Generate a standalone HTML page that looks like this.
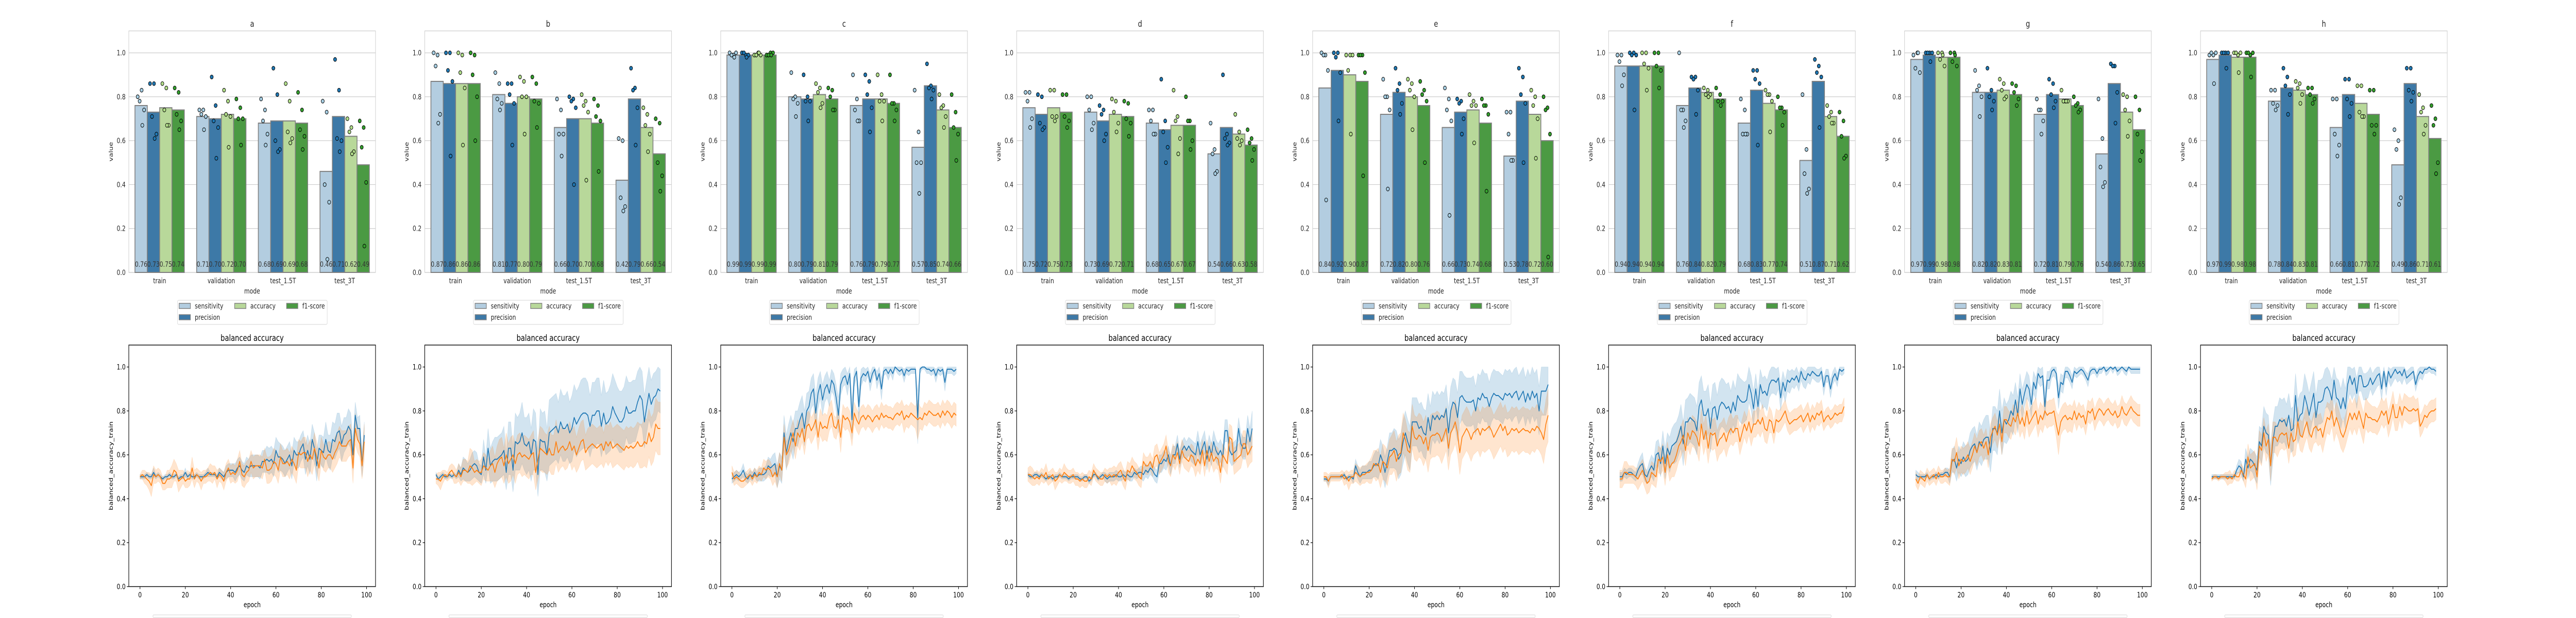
<!DOCTYPE html>
<html><head><meta charset="utf-8"><title>metrics</title>
<style>
html,body{margin:0;padding:0;background:#fff;width:100%;height:100%;overflow:hidden;}
svg{display:block;font-family:"DejaVu Sans","Liberation Sans",sans-serif;overflow:hidden;width:100vw;height:100vh;}
</style></head>
<body>
<svg id="fig" viewBox="0 0 6400 1200" preserveAspectRatio="none" xmlns="http://www.w3.org/2000/svg"></svg>
<script>
// ---------- BAR CHART DATA ----------
const modes = ['train','validation','test_1.5T','test_3T'];
const metrics = ['sensitivity','precision','accuracy','f1-score'];
const panelTitles = ['a','b','c','d','e','f','g','h'];
const yTicksTop = [0,0.2,0.4,0.6,0.8,1.0];
const yTicksBottom = [0,0.2,0.4,0.6,0.8,1.0];
const xTicksBottom = [0,20,40,60,80,100];

const means_a = [.76,.73,.75,.74, .71,.70,.72,.70, .68,.69,.69,.68, .46,.71,.62,.49];
const means_b = [.87,.86,.86,.86, .81,.77,.80,.79, .66,.70,.70,.68, .42,.79,.66,.54];
const means_c = [.99,.99,.99,.99, .80,.79,.81,.79, .76,.79,.79,.77, .57,.85,.74,.66];
const means_d = [.75,.72,.75,.73, .73,.69,.72,.71, .68,.65,.67,.67, .54,.66,.63,.58];
const means_e = [.84,.92,.90,.87, .72,.82,.80,.76, .66,.73,.74,.68, .53,.78,.72,.60];
const means_f = [.94,.94,.94,.94, .76,.84,.82,.79, .68,.83,.77,.74, .51,.87,.71,.62];
const means_g = [.97,.99,.98,.98, .82,.82,.83,.81, .72,.81,.79,.76, .54,.86,.73,.65];
const means_h = [.97,.99,.98,.98, .78,.84,.83,.81, .66,.81,.77,.72, .49,.86,.71,.61];

const dots_a = [[.80,.83,.78,.74,.67],[.86,.86,.71,.63,.61],[.86,.84,.74,.67,.67],[.84,.82,.72,.69,.65],
 [.74,.74,.72,.71,.65],[.89,.76,.69,.66,.52],[.83,.78,.72,.71,.57],[.79,.75,.70,.70,.58],
 [.79,.74,.69,.63,.58],[.93,.81,.60,.56,.55],[.86,.78,.64,.61,.59],[.82,.74,.65,.62,.56],
 [.78,.73,.40,.32,.06],[.97,.83,.61,.60,.55],[.70,.66,.64,.55,.54],[.69,.66,.57,.41,.12]];
const dots_b = [[1.0,.99,.94,.72,.68],[1.0,1.0,.92,.87,.53],[1.0,.99,.91,.84,.58],[1.0,.99,.90,.80,.60],
 [.91,.86,.79,.77,.74],[.86,.86,.81,.77,.58],[.89,.87,.80,.80,.63],[.89,.86,.78,.77,.66],
 [.79,.74,.63,.63,.53],[.80,.79,.78,.75,.40],[.81,.78,.76,.73,.42],[.79,.76,.71,.69,.46],
 [.61,.60,.34,.30,.28],[.93,.84,.83,.75,.58],[.75,.72,.67,.63,.55],[.70,.68,.50,.44,.37]];
const dots_c = [[1.0,.99,.99,1.0,.98],[1.0,.99,1.0,.99,.98],[.99,1.0,.99,.99,1.0],[.99,1.0,.99,1.0,.99],
 [.91,.80,.79,.77,.71],[.90,.80,.78,.78,.69],[.86,.84,.82,.77,.75],[.84,.83,.80,.74,.74],
 [.90,.79,.74,.69,.69],[.90,.87,.81,.75,.64],[.90,.81,.78,.78,.69],[.90,.77,.77,.74,.69],
 [.83,.64,.50,.50,.36],[.95,.85,.84,.83,.79],[.81,.76,.75,.71,.66],[.81,.73,.66,.63,.51]];
const dots_d = [[.82,.82,.78,.70,.66],[.81,.80,.68,.66,.65],[.83,.83,.71,.71,.69],[.81,.81,.71,.69,.66],
 [.80,.80,.74,.68,.65],[.76,.74,.72,.63,.60],[.79,.78,.73,.68,.64],[.78,.77,.70,.68,.62],
 [.74,.74,.69,.63,.63],[.88,.69,.64,.57,.50],[.83,.71,.69,.61,.54],[.80,.69,.69,.60,.56],
 [.68,.56,.54,.46,.45],[.90,.63,.61,.59,.58],[.72,.64,.61,.60,.58],[.65,.61,.59,.56,.51]];
const dots_e = [[1.0,.99,.99,.92,.33],[1.0,1.0,.98,.91,.69],[.99,.99,.92,.99,.63],[.99,.99,.99,.91,.44],
 [.88,.80,.80,.74,.38],[.93,.86,.83,.77,.72],[.88,.86,.83,.80,.65],[.87,.83,.81,.78,.50],
 [.84,.79,.74,.69,.26],[.79,.78,.77,.70,.63],[.81,.78,.76,.76,.59],[.79,.76,.76,.72,.37],
 [.73,.73,.63,.51,.51],[.93,.89,.81,.77,.50],[.83,.80,.76,.70,.52],[.80,.75,.74,.63,.07]];
const dots_f = [[.99,.99,.96,.90,.85],[1.0,1.0,.99,.99,.74],[1.0,1.0,.95,.93,.83],[1.0,1.0,.94,.92,.84],
 [1.0,.74,.74,.69,.66],[.89,.89,.88,.83,.72],[.84,.83,.81,.81,.80],[.84,.81,.78,.78,.76],
 [.79,.74,.63,.63,.63],[.92,.92,.88,.86,.58],[.83,.81,.81,.78,.64],[.80,.75,.75,.73,.67],
 [.81,.56,.45,.38,.36],[.97,.94,.91,.89,.66],[.76,.73,.71,.68,.68],[.73,.69,.62,.53,.52]];
const dots_g = [[.99,1.0,.93,.91,1.0],[1.0,1.0,1.0,1.0,.96],[1.0,1.0,.97,.94,.99],[1.0,1.0,.96,.94,.99],
 [.92,.85,.83,.80,.71],[.93,.83,.80,.78,.74],[.88,.86,.83,.80,.79],[.86,.85,.82,.79,.76],
 [.79,.74,.74,.69,.63],[.88,.86,.81,.78,.75],[.83,.78,.78,.78,.78],[.80,.77,.76,.74,.73],
 [.79,.61,.48,.41,.39],[.95,.94,.94,.82,.68],[.81,.80,.74,.69,.62],[.80,.74,.63,.55,.51]];
const dots_h = [[.99,.99,1.0,1.0,.86],[1.0,1.0,1.0,1.0,.93],[1.0,.99,1.0,1.0,.91],[1.0,.99,1.0,1.0,.89],
 [.83,.83,.77,.76,.74],[.93,.89,.85,.81,.72],[.87,.86,.84,.81,.77],[.84,.84,.81,.79,.77],
 [.79,.79,.63,.58,.53],[.88,.88,.79,.77,.71],[.85,.85,.73,.71,.71],[.83,.83,.67,.67,.63],
 [.65,.60,.56,.34,.31],[.93,.93,.83,.82,.78],[.81,.75,.73,.67,.63],[.76,.70,.67,.50,.45]];

// ---------- LINE CHART DATA (percent, epochs 0..99) ----------
const blue_a = [50,50,50,51,50,50,52,50,51,50, 49,50,50,51,50,50,51,49,50,50, 52,50,51,50,50,51,50,50,50,51, 52,51,51,51,50,52,51,50,52,53, 53,53,52,54,55,53,52,55,54,55, 55,55,55,54,57,57,58,57,58,56, 62,59,59,58,56,58,60,55,62,60, 60,63,65,58,62,58,67,63,55,63, 62,61,67,62,61,67,66,70,71,65, 69,70,73,71,60,78,72,72,55,69];
const orange_a = [50,51,50,49,48,46,51,50,51,50, 47,47,49,49,50,53,52,48,49,50, 48,49,49,54,49,51,50,48,50,50, 51,52,51,52,49,51,50,48,52,54, 51,52,51,53,57,51,50,52,53,57, 54,55,55,55,54,58,53,53,54,57, 56,53,59,56,56,57,55,58,56,53, 61,60,61,61,57,60,58,63,59,54, 62,59,58,60,60,58,61,63,66,64, 64,64,66,67,54,72,67,65,55,66];
const blueSd_a = [1,1,1,1,1,1,2,1,1,1, 1,1,1,1,1,1,1,1,1,1, 2,1,1,1,1,1,1,1,1,1, 2,1,1,1,1,2,2,2,3,3, 3,3,4,4,4,4,4,4,4,5, 5,5,5,5,5,5,6,6,6,6, 6,7,6,6,6,6,6,6,6,6, 6,6,6,7,7,7,7,7,7,6, 7,7,8,7,8,8,8,9,8,8, 8,7,8,8,7,6,5,6,5,6];
const orangeSd_a = [1,2,3,3,4,5,4,3,3,3, 3,3,4,4,5,5,4,5,4,3, 3,4,3,5,4,3,3,4,3,3, 3,4,4,3,4,3,3,4,4,4, 4,4,4,5,5,5,5,5,5,5, 5,5,5,5,5,5,6,6,6,6, 6,6,6,6,6,6,6,6,6,6, 6,6,7,7,7,7,7,7,7,6, 6,6,6,6,6,6,7,7,7,7, 7,7,7,7,7,7,6,6,6,8];

const blue_b = [51,49,50,51,50,50,51,50,51,50, 53,51,54,53,52,53,55,56,55,52, 51,59,53,63,55,57,58,58,59,60, 62,52,63,63,53,66,65,66,70,65, 64,66,60,67,66,51,67,66,66,60, 70,71,72,73,70,75,72,72,74,70, 72,77,74,76,78,79,79,78,73,78, 78,80,80,73,79,74,75,77,82,79, 77,75,75,77,82,79,79,80,80,84, 87,85,75,82,88,83,86,87,90,89];
const orange_b = [49,49,48,50,51,50,52,53,51,50, 52,50,53,53,52,55,54,52,53,52, 52,55,54,53,55,56,52,56,58,59, 55,60,56,58,60,56,60,61,59,60, 59,58,60,61,52,58,63,62,61,60, 63,60,60,66,61,63,64,62,63,66, 62,64,60,63,66,67,61,63,64,65, 64,63,64,65,62,66,64,66,63,64, 65,64,63,62,64,63,64,63,64,66, 64,64,66,65,70,66,68,74,72,72];
const blueSd_b = [1,1,1,1,1,1,1,1,1,1, 3,3,5,5,4,5,6,6,6,4, 4,8,6,9,8,9,10,10,10,10, 11,8,12,12,10,13,12,13,14,12, 13,13,12,14,13,10,14,13,14,12, 15,15,15,15,14,15,15,15,15,14, 15,15,15,15,16,16,16,15,14,15, 15,15,15,14,15,14,14,15,15,15, 14,14,14,14,14,14,14,14,14,14, 13,13,12,12,12,11,11,11,10,10];
const orangeSd_b = [2,3,4,3,2,2,3,3,4,3, 4,4,5,5,5,8,8,5,5,5, 6,6,6,5,7,8,7,8,9,9, 8,10,9,10,9,9,9,9,9,9, 9,9,9,10,8,9,10,10,9,9, 10,9,9,10,9,9,9,9,9,9, 9,9,8,9,9,9,8,9,9,9, 9,9,9,9,8,9,9,9,9,9, 9,9,9,9,9,9,9,9,9,9, 10,10,11,11,11,11,11,12,12,12];

const blue_c = [49,50,51,50,51,53,50,49,51,50, 52,50,51,51,51,52,55,54,55,56, 50,55,53,70,61,66,70,66,72,72, 76,79,72,80,82,88,90,79,88,92, 85,90,92,88,94,92,86,78,92,95, 96,92,97,76,95,98,82,95,97,96, 98,93,97,99,94,97,90,98,99,97, 99,97,100,99,98,99,96,99,98,99, 99,99,77,99,100,100,99,99,98,99, 96,99,98,99,93,99,99,99,98,99];
const orange_c = [52,49,50,49,48,48,49,50,51,49, 51,50,52,51,54,53,54,53,50,52, 50,56,53,68,60,62,66,70,64,70, 68,72,66,73,74,71,73,76,68,75, 72,73,72,77,79,73,72,76,68,78, 76,77,75,70,79,76,74,77,78,76, 78,77,75,77,78,76,79,77,78,77, 77,76,78,79,78,80,76,78,77,79, 78,77,76,77,76,79,78,80,79,78, 78,79,77,80,78,80,79,77,79,78];
const blueSd_c = [2,2,2,2,2,3,2,2,2,2, 2,2,3,3,3,3,4,4,5,5, 5,6,6,8,8,8,8,8,8,8, 8,8,8,8,7,7,7,8,7,6, 7,6,6,6,5,5,6,8,5,4, 4,5,3,9,4,3,7,4,3,3, 2,4,3,2,4,3,5,2,2,3, 2,3,1,2,2,2,3,2,2,2, 2,2,12,2,1,1,2,2,2,2, 3,2,2,2,4,2,2,2,2,2];
const orangeSd_c = [3,3,3,3,3,3,3,3,3,3, 3,3,3,3,4,4,4,4,4,4, 5,5,5,6,6,6,6,6,6,6, 6,6,6,6,6,6,6,6,6,6, 6,6,6,6,6,5,5,5,7,5, 5,5,5,6,5,5,5,5,5,5, 5,5,5,5,5,5,5,5,5,5, 5,5,5,5,5,5,6,5,5,5, 5,5,9,5,5,5,5,5,5,5, 5,5,5,5,5,5,5,5,5,5];

const blue_d = [51,50,50,51,51,50,51,50,49,50, 50,49,50,50,51,50,50,50,49,50, 50,50,50,49,49,50,50,48,49,51, 51,49,50,51,50,49,50,50,50,51, 50,50,51,50,51,50,50,52,51,52, 52,51,53,52,54,53,51,50,56,56, 58,57,60,55,60,60,65,58,62,64, 62,64,62,61,60,66,60,63,66,58, 64,60,66,62,60,62,59,71,71,62, 60,61,62,72,65,63,63,72,66,72];
const orange_d = [51,51,50,49,50,49,51,50,52,49, 50,51,48,49,51,50,52,51,50,50, 51,49,49,48,49,48,48,50,49,53, 51,50,49,49,51,50,51,50,51,50, 52,53,50,48,53,52,55,53,52,50, 49,57,55,55,57,54,59,60,56,58, 60,64,57,55,60,58,61,56,62,59, 58,57,60,59,55,58,56,62,55,62, 57,61,57,59,58,52,60,58,56,68, 67,57,58,59,60,65,65,60,62,64];
const blueSd_d = [1,1,1,1,1,1,1,1,1,1, 1,1,1,1,1,1,1,1,1,1, 1,1,1,1,1,1,1,1,1,1, 1,1,1,1,2,2,2,2,2,2, 2,2,2,2,2,2,2,2,2,2, 3,3,3,3,3,3,3,3,4,4, 4,4,4,4,4,4,4,4,4,4, 4,4,5,5,5,5,5,5,5,5, 5,5,5,5,5,5,5,5,5,5, 5,5,5,5,5,5,5,6,6,8];
const orangeSd_d = [3,4,4,3,3,3,3,3,4,3, 3,3,4,3,3,3,4,3,3,3, 3,3,3,3,3,3,3,3,3,3, 3,3,3,3,3,3,3,4,4,4, 4,4,4,4,4,4,4,4,4,4, 4,4,4,4,4,4,5,5,5,5, 5,5,5,5,5,5,5,5,5,5, 5,5,5,5,5,5,5,5,5,5, 5,5,5,5,5,5,5,5,5,6, 6,6,6,6,6,6,6,6,6,7];

const blue_e = [49,49,48,50,50,50,50,50,50,51, 49,50,50,49,55,52,50,52,52,52, 53,53,55,56,55,60,57,52,57,62, 62,63,62,58,60,66,70,66,63,75, 75,75,72,73,70,69,77,71,78,76, 78,76,78,77,81,70,80,84,83,77, 86,87,85,84,84,84,85,80,86,85, 88,86,86,82,86,88,87,87,86,85, 88,87,88,86,88,89,85,87,89,84, 88,85,89,86,88,80,89,89,89,92];
const orange_e = [50,50,48,50,50,50,50,50,51,49, 50,48,50,50,52,51,50,51,51,52, 52,53,56,55,56,52,57,56,54,59, 60,62,57,60,61,70,67,62,61,73, 68,67,69,68,65,68,62,68,69,69, 70,69,66,69,72,63,70,72,75,70, 61,68,70,72,70,67,70,71,72,69, 72,71,72,73,71,68,70,72,74,71, 73,69,70,72,71,72,70,71,72,71, 71,70,72,71,73,72,70,67,74,78];
const blueSd_e = [1,1,2,1,1,1,1,1,1,1, 1,1,1,2,3,3,3,3,3,3, 4,4,5,6,6,7,7,7,7,8, 8,9,9,9,9,10,10,10,10,11, 11,11,11,11,11,11,11,11,11,11, 11,11,11,11,11,11,11,11,11,11, 12,11,11,11,11,11,11,11,11,11, 11,11,11,11,11,11,11,11,11,11, 11,11,11,11,11,11,11,11,11,11, 11,11,11,11,11,11,11,11,11,9];
const orangeSd_e = [2,2,3,2,2,2,2,2,2,3, 3,4,3,3,4,4,4,4,4,4, 5,6,6,7,7,7,8,8,8,8, 9,9,9,9,9,9,9,9,9,10, 10,10,10,10,10,10,10,10,10,10, 10,10,10,10,10,10,10,10,10,10, 10,10,10,10,10,10,10,10,10,10, 10,10,10,10,10,10,10,10,10,10, 10,10,10,10,10,10,10,10,10,10, 10,10,10,10,10,10,10,11,11,12];

const blue_f = [50,50,52,51,52,52,51,50,53,55, 56,51,50,53,55,53,60,61,56,64, 56,63,60,64,65,66,69,73,65,75, 75,77,76,75,71,82,85,78,78,81, 72,81,82,76,82,84,83,81,82,79, 84,80,87,85,84,84,85,92,88,81, 90,82,92,88,89,87,92,94,94,93, 95,86,93,89,94,93,95,94,96,93, 98,95,94,97,96,98,97,96,96,98, 91,96,96,90,95,97,94,99,98,99];
const orange_f = [49,49,52,52,51,51,51,50,49,51, 53,50,47,48,52,51,50,58,57,59, 52,60,54,56,57,60,64,66,69,62, 70,67,71,70,68,64,74,67,71,63, 70,69,70,64,67,68,70,66,70,72, 70,72,72,66,70,74,71,75,70,74, 74,76,74,77,72,71,76,75,70,76, 75,76,78,80,76,74,75,76,76,77, 78,75,77,79,75,78,76,79,78,80, 75,77,78,76,77,79,78,79,79,82];
const blueSd_f = [2,2,2,2,2,2,2,2,3,4, 5,3,3,4,5,5,6,6,6,7, 7,7,8,8,9,9,9,10,10,10, 11,11,11,11,11,11,11,11,11,11, 11,11,11,11,11,11,11,11,11,10, 10,10,10,10,10,9,9,8,8,8, 7,7,7,7,7,7,6,6,6,6, 5,6,5,5,5,5,4,4,4,4, 4,4,4,4,4,3,3,3,3,3, 4,3,3,4,3,3,3,2,2,2];
const orangeSd_f = [4,4,5,5,4,4,4,4,5,5, 5,5,5,5,5,5,5,6,6,6, 6,6,6,6,7,7,7,7,7,7, 7,7,7,7,7,7,7,7,7,7, 7,7,7,7,7,7,7,7,7,7, 6,6,6,6,6,6,6,6,6,6, 6,6,6,6,6,6,6,5,5,5, 5,5,5,5,5,5,5,5,5,5, 5,5,5,5,5,5,5,5,5,5, 4,4,4,4,4,4,4,4,4,4];

const blue_g = [51,50,50,50,50,51,49,50,50,51, 50,51,51,52,52,50,57,58,54,58, 56,59,57,58,62,64,65,61,66,64, 67,68,68,61,72,72,70,80,70,76, 74,76,80,78,85,78,90,83,88,92, 90,83,93,90,97,95,96,82,94,94, 98,99,97,86,93,92,98,98,96,93, 98,97,98,99,98,96,94,98,99,99, 97,99,99,100,98,99,100,99,100,98, 99,100,99,98,100,99,99,99,99,99];
const orange_g = [49,47,50,49,48,51,49,50,51,49, 52,50,50,51,50,50,58,57,61,55, 58,57,58,60,57,60,64,61,65,66, 63,66,60,68,71,73,69,74,66,76, 76,74,73,77,75,79,74,77,73,80, 74,76,78,80,74,78,76,80,78,79, 79,80,74,69,75,77,78,76,77,76, 80,76,79,77,78,74,80,79,81,76, 79,81,80,78,80,81,79,78,80,77, 78,82,79,78,80,82,80,79,78,78];
const blueSd_g = [2,2,1,1,1,1,1,1,1,1, 1,1,1,2,2,3,5,6,6,6, 6,7,7,7,8,8,8,8,9,9, 9,10,10,9,10,10,10,10,10,10, 9,9,9,9,8,8,7,7,6,6, 6,6,5,5,4,4,4,6,4,4, 3,3,3,5,4,4,3,3,3,3, 2,2,2,2,2,2,3,2,2,2, 2,2,2,1,2,2,1,2,1,2, 2,1,2,2,1,2,2,2,2,2];
const orangeSd_g = [3,3,3,3,3,3,3,3,3,3, 3,3,3,3,3,4,5,6,7,6, 6,6,6,6,6,6,6,6,6,6, 6,6,6,6,6,6,6,6,6,6, 6,6,6,6,6,6,6,6,6,6, 6,6,6,6,6,6,6,6,6,6, 6,6,6,9,6,6,6,6,6,6, 5,5,5,5,5,5,5,5,5,5, 5,5,5,5,5,5,5,5,5,5, 5,5,5,5,5,5,5,5,5,5];

const blue_h = [50,50,50,50,50,50,50,50,50,50, 50,53,55,54,50,58,54,58,57,55, 53,66,64,73,70,69,55,66,73,73, 76,75,76,73,78,71,72,87,75,78, 79,87,83,78,83,88,77,84,84,85, 90,91,89,85,94,86,85,81,86,81, 92,96,92,95,88,96,96,91,91,92, 95,92,94,96,97,90,98,91,98,95, 97,99,97,98,96,99,95,96,97,98, 92,96,98,97,99,99,100,99,99,98];
const orange_h = [49,50,50,49,50,50,50,49,50,49, 51,50,50,53,51,49,59,54,55,56, 50,64,62,70,64,67,55,68,68,66, 69,70,69,70,63,70,66,67,75,69, 68,72,75,70,68,72,73,71,72,68, 73,77,76,80,73,77,74,70,68,71, 75,79,76,79,76,80,76,72,79,77, 77,76,76,75,77,80,78,80,74,78, 83,77,77,82,78,82,81,80,80,81, 80,81,73,75,78,77,79,80,80,81];
const blueSd_h = [1,1,1,1,1,1,1,1,1,1, 1,2,3,3,2,5,5,5,5,6, 6,7,8,9,9,9,9,9,9,9, 10,10,10,10,10,10,10,10,10,10, 10,10,10,10,10,10,10,10,10,10, 9,9,9,9,9,9,9,9,9,9, 8,8,7,7,7,7,7,6,6,6, 5,5,5,5,5,5,4,4,4,4, 4,4,4,4,4,4,3,3,3,3, 3,3,3,3,2,2,2,2,2,2];
const orangeSd_h = [1,1,1,1,1,1,2,3,3,2, 2,2,2,3,3,4,6,6,6,6, 6,7,7,7,7,7,7,7,7,7, 7,7,7,7,7,7,7,7,7,7, 7,7,7,7,7,7,7,7,7,7, 7,7,7,7,7,7,7,7,7,7, 7,7,7,7,7,7,7,7,7,7, 6,6,6,6,6,6,6,6,6,6, 6,6,6,6,6,6,6,6,6,6, 5,5,5,5,5,5,5,5,5,5];

const allMeans = [means_a,means_b,means_c,means_d,means_e,means_f,means_g,means_h];
const allDots = [dots_a,dots_b,dots_c,dots_d,dots_e,dots_f,dots_g,dots_h];
const allBlue = [blue_a,blue_b,blue_c,blue_d,blue_e,blue_f,blue_g,blue_h];
const allOrange = [orange_a,orange_b,orange_c,orange_d,orange_e,orange_f,orange_g,orange_h];
const allBlueSd = [blueSd_a,blueSd_b,blueSd_c,blueSd_d,blueSd_e,blueSd_f,blueSd_g,blueSd_h];
const allOrangeSd = [orangeSd_a,orangeSd_b,orangeSd_c,orangeSd_d,orangeSd_e,orangeSd_f,orangeSd_g,orangeSd_h];

// ---------- RENDER ----------
const NS = 'http://www.w3.org/2000/svg';
const svg = document.getElementById('fig');
const barFill = ['#b3cde0','#3d79a7','#b8d89a','#4b9a43'];
const dotFill = ['#a6cee3','#1f78b4','#b2df8a','#33a02c'];
const jit = [-0.35,0.05,-0.15,0.3,0.12];
function mk(tag, attrs, parent, text){
  const e = document.createElementNS(NS, tag);
  for (const k in attrs) e.setAttribute(k, attrs[k]);
  if (text !== undefined) e.textContent = text;
  (parent || svg).appendChild(e);
  return e;
}
const PW = 735.3, AW = 613;
const TOP_T = 60, TOP_B = 529, BOT_T = 670, BOT_B = 1139, PXU = 426.4;
function tY(v){ return TOP_B - v*PXU; }
function bY(v){ return BOT_B - v*PXU; }

for (let p = 0; p < 8; p++) {
  const L = 320 + PW*p, R = L + AW;
  const catW = AW/4;
  function xc(k){ return L + (k+0.5)*catW; }
  function bX(e){ return L + (e+4.95)*AW/108.9; }

  // ===== top bar panel =====
  const gt = mk('g', {});
  
  
  mk('rect', {x:L, y:TOP_T, width:AW, height:TOP_B-TOP_T, fill:'#fff', stroke:'#cccccc', 'stroke-width':1.2}, gt);
  yTicksTop.forEach(v => {
    const gl = mk('line', {x1:L, x2:R, y1:tY(v), y2:tY(v), stroke:'#cccccc', 'stroke-width':1.2}, gt);
    
    
    const tl = mk('text', {x:L-8, y:tY(v)+5, 'text-anchor':'end', 'font-size':13.9, fill:'#262626'}, gt, v.toFixed(1));
    
    
  });
  const tt = mk('text', {x:(L+R)/2, y:52, 'text-anchor':'middle', 'font-size':16.7, fill:'#262626'}, gt, panelTitles[p]);
  
  
  const yl = mk('text', {transform:`translate(${L-40},${(TOP_T+TOP_B)/2}) rotate(-90)`, 'text-anchor':'middle', 'font-size':13.9, fill:'#262626'}, gt, 'value');
  
  
  const xl = mk('text', {x:(L+R)/2, y:570, 'text-anchor':'middle', 'font-size':13.9, fill:'#262626'}, gt, 'mode');
  
  
  const means = allMeans[p], dots = allDots[p];
  for (let k = 0; k < 4; k++) {
    const xt = mk('text', {x:xc(k), y:550, 'text-anchor':'middle', 'font-size':13.9, fill:'#262626'}, gt, modes[k]);
    
    
    for (let m = 0; m < 4; m++) {
      const idx = k*4+m;
      const bw = catW*0.2;
      const bx = xc(k) + (m-1.5)*bw - bw/2;
      const v = means[idx];
      const b = mk('rect', {x:bx, y:tY(v), width:bw, height:v*PXU, fill:barFill[m], stroke:'#808080', 'stroke-width':2}, gt);
      
      
      const vt = mk('text', {x:bx+bw/2, y:518, 'text-anchor':'middle', 'font-size':13.9, fill:'#333'}, gt, v.toFixed(2));
      
      
      dots[idx].forEach((d, j) => {
        const c = mk('circle', {cx:bx+bw/2 + jit[j]*bw*0.8, cy:tY(d), r:3.8, fill:dotFill[m], stroke:'#000', 'stroke-width':1.1}, gt);
        
        
      });
    }
  }
  // legend
  const lg = mk('g', {}, gt);
  
  
  const lx = L + 121;
  mk('rect', {x:lx, y:583, width:372, height:47, rx:3, fill:'#fff', stroke:'#dddddd', 'stroke-width':1.2}, lg);
  const legPos = [[lx+4,594],[lx+4,616],[lx+142,594],[lx+271,594]];
  metrics.forEach((name, m) => {
    const [px, py] = legPos[m];
    const le = mk('g', {}, lg);
    
    
    mk('rect', {x:px, y:py-5, width:28, height:10, fill:barFill[m], stroke:'#808080', 'stroke-width':1.5}, le);
    mk('text', {x:px+39, y:py+5, 'font-size':13.9, fill:'#262626'}, le, name);
  });

  // ===== bottom line panel =====
  const gb = mk('g', {});
  
  
  const bt = mk('text', {x:(L+R)/2, y:662, 'text-anchor':'middle', 'font-size':16.7, fill:'#000'}, gb, 'balanced accuracy');
  
  
  const series = [[allBlue[p], allBlueSd[p], '#1f77b4'], [allOrange[p], allOrangeSd[p], '#ff7f0e']];
  series.forEach(([vals, sd, col], si) => {
    let up = '', dn = '';
    vals.forEach((v, e) => { up += (e ? 'L' : 'M') + bX(e).toFixed(1) + ' ' + bY(Math.min(1, (v+sd[e])/100)).toFixed(1); });
    for (let e = vals.length-1; e >= 0; e--) dn += 'L' + bX(e).toFixed(1) + ' ' + bY((vals[e]-sd[e])/100).toFixed(1);
    const band = mk('path', {d:up+dn+'Z', fill:col, 'fill-opacity':0.2, stroke:col, 'stroke-opacity':0.15}, gb);
    
    
  });
  series.forEach(([vals, sd, col], si) => {
    let d = '';
    vals.forEach((v, e) => { d += (e ? 'L' : 'M') + bX(e).toFixed(1) + ' ' + bY(v/100).toFixed(1); });
    const ln = mk('path', {d, fill:'none', stroke:col, 'stroke-width':2, 'stroke-linejoin':'round'}, gb);
    
    
  });
  mk('rect', {x:L, y:BOT_T, width:AW, height:BOT_B-BOT_T, fill:'none', stroke:'#000', 'stroke-width':1.4}, gb);
  yTicksBottom.forEach(v => {
    mk('line', {x1:L-5, x2:L, y1:bY(v), y2:bY(v), stroke:'#000', 'stroke-width':1.2}, gb);
    const tl = mk('text', {x:L-8, y:bY(v)+5, 'text-anchor':'end', 'font-size':13.9, fill:'#000'}, gb, v.toFixed(1));
    
    
  });
  xTicksBottom.forEach(v => {
    mk('line', {x1:bX(v), x2:bX(v), y1:BOT_B, y2:BOT_B+5, stroke:'#000', 'stroke-width':1.2}, gb);
    const tl = mk('text', {x:bX(v), y:BOT_B+21, 'text-anchor':'middle', 'font-size':13.9, fill:'#000'}, gb, String(v));
    
    
  });
  const byl = mk('text', {transform:`translate(${L-40},${(BOT_T+BOT_B)/2}) rotate(-90)`, 'text-anchor':'middle', 'font-size':13.9, fill:'#000'}, gb, 'balanced_accuracy_train');
  
  
  const bxl = mk('text', {x:(L+R)/2, y:1179, 'text-anchor':'middle', 'font-size':13.9, fill:'#000'}, gb, 'epoch');
  
  
  const bl = mk('rect', {x:L+60, y:1194, width:493, height:5, rx:2, fill:'#fff', stroke:'#dddddd', 'stroke-width':1.2}, gb);
  
  
}
</script>
</body></html>
